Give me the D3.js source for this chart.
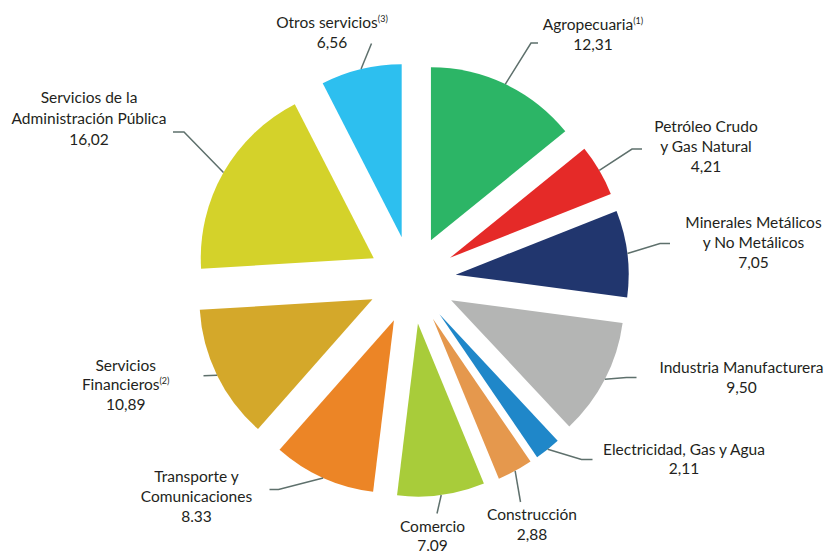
<!DOCTYPE html>
<html>
<head>
<meta charset="utf-8">
<script src="https://cdn.jsdelivr.net/npm/d3@7"></script>
<style>
  body { margin: 0; background: #fff; }
  svg { display: block; }
</style>
</head>
<body>
<script>
// Sectors (clockwise from 12 o'clock)
const sectors = [
    "Agropecuaria",
    "Petróleo Crudo\ny Gas Natural",
    "Minerales Metálicos\ny No Metálicos",
    "Industria Manufacturera",
    "Electricidad, Gas y Agua",
    "Construcción",
    "Comercio",
    "Transporte y\nComunicaciones",
    "Servicios\nFinancieros",
    "Servicios de la\nAdministración Pública",
    "Otros servicios"
];
const notes = ["(1)", "", "", "", "", "", "", "", "(2)", "", "(3)"];
const shares = [12.31, 4.21, 7.05, 9.50, 2.11, 2.88, 7.09, 8.33, 10.89, 16.02, 6.56];
const shareText = ["12,31", "4,21", "7,05", "9,50", "2,11", "2,88", "7.09", "8.33", "10,89", "16,02", "6,56"];
const colors = ["#2cb566", "#e52a28", "#21366e", "#b4b5b4", "#1f87c9", "#e5984d",
    "#a8cc3a", "#ec8526", "#d4a82a", "#d4d22a", "#2dbfef"];

const width = 826;
const height = 552;
const cx = 412, cy = 280;
const radius = 173;
const explode = 44;

// label placement: text centre x, first baseline, line step, leader bend/end points
const labelLayout = [
    { x: 593, y: 30, step: 20, leader: [[531, 43], [538, 43]] },
    { x: 706, y: 132, step: 20, leader: [[632, 149], [642, 149]] },
    { x: 753.5, y: 228, step: 20, leader: [[660, 243.5], [670, 243.5]] },
    { x: 741.5, y: 373, step: 19.5, leader: [[626.5, 377.5], [636.5, 377.5]] },
    { x: 684, y: 454.5, step: 19, leader: [[581.5, 459.5], [592.5, 459.5]] },
    { x: 532, y: 520, step: 20, leader: [[520.5, 502]] },
    { x: 432.5, y: 532, step: 18.5, leader: [[437, 513.5]] },
    { x: 196.5, y: 482, step: 20, leader: [[278.5, 489.5], [269.5, 489.5]] },
    { x: 125.7, y: 370.5, step: 19.5, leader: [[203.5, 375.7]] },
    { x: 89, y: 103, step: 21, leader: [[184, 132], [173, 132]] },
    { x: 332, y: 27.5, step: 20, leader: [[371.5, 43.5]] }
];

const svg = d3.select("body")
    .append("svg")
    .attr("width", width)
    .attr("height", height);

const pie = d3.pie()
    .sort(null)
    .value(d => d);

const arc = d3.arc()
    .innerRadius(0)
    .outerRadius(radius);

const arcs = pie(shares);

// offset of each exploded slice (apex position)
const apex = d => {
    const m = (d.startAngle + d.endAngle) / 2;
    return [cx + explode * Math.sin(m), cy - explode * Math.cos(m)];
};

// Slices
svg.append("g")
    .selectAll("path")
    .data(arcs)
    .join("path")
    .attr("transform", d => `translate(${apex(d)[0]},${apex(d)[1]})`)
    .attr("fill", (d, i) => colors[i])
    .attr("d", arc);

// Leader lines, starting on the outer rim at each slice's mid angle
const line = d3.line();
svg.append("g")
    .selectAll("path")
    .data(arcs)
    .join("path")
    .attr("fill", "none")
    .attr("stroke", "#5e706c")
    .attr("stroke-width", 1.5)
    .attr("d", (d, i) => {
        const m = (d.startAngle + d.endAngle) / 2;
        const [ax, ay] = apex(d);
        const start = [ax + radius * Math.sin(m), ay - radius * Math.cos(m)];
        return line([start, ...labelLayout[i].leader]);
    });

// Labels
const labels = svg.append("g")
    .attr("font-family", "Lato, 'Open Sans', sans-serif")
    .attr("font-size", "15.5px")
    .attr("fill", "#231f20")
    .attr("text-anchor", "middle");

sectors.forEach((name, i) => {
    const lay = labelLayout[i];
    const lines = name.split("\n");
    lines.forEach((txt, j) => {
        const t = labels.append("text")
            .attr("x", lay.x)
            .attr("y", lay.y + j * lay.step);
        t.append("tspan").text(txt);
        if (j === lines.length - 1 && notes[i]) {
            t.append("tspan")
                .attr("font-size", "9px")
                .attr("dy", -6)
                .text(notes[i]);
        }
    });
    labels.append("text")
        .attr("x", lay.x)
        .attr("y", lay.y + lines.length * lay.step)
        .text(shareText[i]);
});
</script>
</body>
</html>
